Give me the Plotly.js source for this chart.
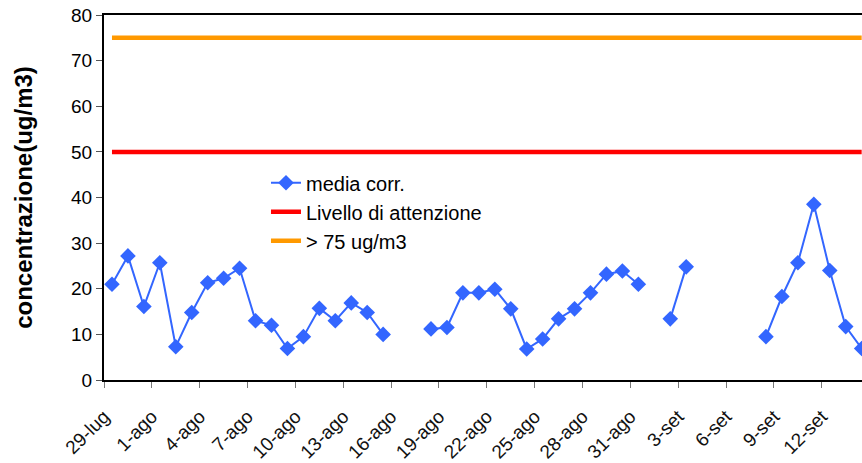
<!DOCTYPE html>
<html>
<head>
<meta charset="utf-8">
<script src="https://cdn.plot.ly/plotly-3.0.1.min.js"></script>
<style>html,body{margin:0;padding:0;background:#fff;}#chart{width:862px;height:463px;}</style>
</head>
<body>
<div id="chart"></div>
<script>
// Dates (one value per day, 29-lug .. 14-set)
const dates = [
  '2011-07-29','2011-07-30','2011-07-31','2011-08-01','2011-08-02','2011-08-03','2011-08-04','2011-08-05',
  '2011-08-06','2011-08-07','2011-08-08','2011-08-09','2011-08-10','2011-08-11','2011-08-12','2011-08-13',
  '2011-08-14','2011-08-15','2011-08-16','2011-08-17','2011-08-18','2011-08-19','2011-08-20','2011-08-21',
  '2011-08-22','2011-08-23','2011-08-24','2011-08-25','2011-08-26','2011-08-27','2011-08-28','2011-08-29',
  '2011-08-30','2011-08-31','2011-09-01','2011-09-02','2011-09-03','2011-09-04','2011-09-05','2011-09-06',
  '2011-09-07','2011-09-08','2011-09-09','2011-09-10','2011-09-11','2011-09-12','2011-09-13','2011-09-14'
];
const mediaCorr = [
  21.0, 27.2, 16.1, 25.7, 7.3, 14.8, 21.3, 22.3,
  24.5, 13.0, 12.0, 6.9, 9.5, 15.7, 13.0, 16.9,
  14.8, 10.0, null, null, 11.2, 11.5, 19.1, 19.1,
  19.9, 15.6, 6.8, 9.0, 13.4, 15.6, 19.1, 23.2,
  23.9, 21.0, null, 13.4, 24.8, null, null, null,
  null, 9.5, 18.3, 25.7, 38.5, 24.0, 11.7, 6.9
];
const lineDates = ['2011-07-29', '2011-09-14'];
const livelloAttenzione = [50, 50];
const soglia75 = [75, 75];
const tickDates = ['2011-07-29','2011-08-01','2011-08-04','2011-08-07','2011-08-10','2011-08-13','2011-08-16',
  '2011-08-19','2011-08-22','2011-08-25','2011-08-28','2011-08-31','2011-09-03','2011-09-06','2011-09-09','2011-09-12'];
const tickLabels = ['29-lug','1-ago','4-ago','7-ago','10-ago','13-ago','16-ago','19-ago','22-ago','25-ago',
  '28-ago','31-ago','3-set','6-set','9-set','12-set'];

const DAY = 86400000;
const traces = [
  {x: dates, y: mediaCorr, type: 'scatter', mode: 'lines+markers', name: 'media corr.',
   xperiod: DAY, xperiodalignment: 'middle', connectgaps: false, legendgroup: 'a',
   line: {color: '#3366FF', width: 2}, marker: {symbol: 'diamond', size: 12, color: '#3366FF'}},
  {x: lineDates, y: livelloAttenzione, type: 'scatter', mode: 'lines', name: 'Livello di attenzione',
   xperiod: DAY, xperiodalignment: 'middle', legendgroup: 'b',
   line: {color: '#FF0000', width: 4.5}},
  {x: lineDates, y: soglia75, type: 'scatter', mode: 'lines', name: '> 75 ug/m3',
   xperiod: DAY, xperiodalignment: 'middle', legendgroup: 'c',
   line: {color: '#FF9900', width: 4.5}}
];

const layout = {
  width: 862, height: 463,
  margin: {l: 104, r: 0, t: 15, b: 83},
  paper_bgcolor: '#fff', plot_bgcolor: '#fff',
  font: {family: 'Liberation Sans, Arial, sans-serif', color: '#000'},
  showlegend: true,
  legend: {x: 0.2137, y: 0.594, xanchor: 'left', yanchor: 'top', bgcolor: 'rgba(0,0,0,0)',
    font: {size: 20}, tracegroupgap: 0, traceorder: 'normal'},
  xaxis: {type: 'date', range: ['2011-07-29 00:00', '2011-09-14 12:30'],
    tickvals: tickDates, ticktext: tickLabels, tickangle: -45,
    tickfont: {size: 19, family: 'Liberation Sans, Arial, sans-serif', color: '#111'},
    ticks: 'outside', ticklen: 6, tickcolor: '#777', tickwidth: 1, ticklabelstandoff: 10,
    showline: true, linecolor: '#000', linewidth: 2, mirror: true,
    showgrid: false, zeroline: false, fixedrange: true},
  yaxis: {range: [0, 80], dtick: 10, tick0: 0,
    tickfont: {size: 19},
    ticks: 'outside', ticklen: 6, tickcolor: '#555', tickwidth: 1,
    showline: true, linecolor: '#000', linewidth: 2,
    showgrid: false, zeroline: false, fixedrange: true,
    title: {text: '<b>concentrazione(ug/m3)</b>', font: {size: 24}, standoff: 32}}
};

Plotly.newPlot('chart', traces, layout, {displayModeBar: false, staticPlot: true});
</script>
</body>
</html>
